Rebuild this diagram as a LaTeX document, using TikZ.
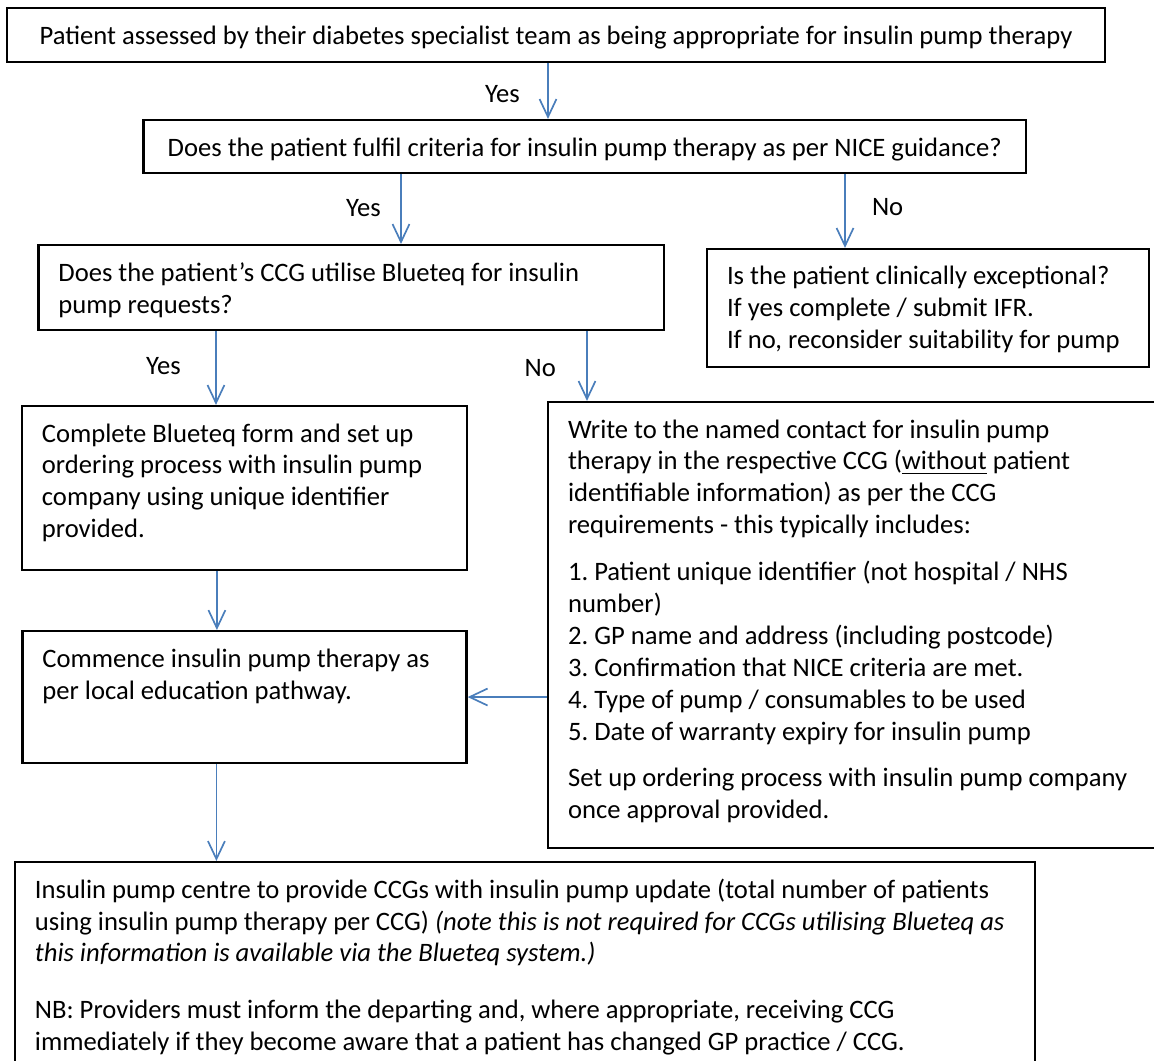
\documentclass[tikz,border=0pt]{standalone}
\usepackage{fontspec}
\setmainfont{Carlito}
\usetikzlibrary{arrows.meta}
\definecolor{flowblue}{RGB}{74,126,187}
\frenchspacing

\begin{document}
\begin{tikzpicture}[x=0.4132pt, y=-0.4132pt,
        font=\fontsize{11pt}{13.2pt}\selectfont,
        box/.style={draw, rectangle, line width=0.9pt, align=flush left, inner xsep=8.26pt, inner ysep=0pt, text height=14.88pt},
        flow/.style={draw=flowblue, line width=0.7pt, -{Straight Barb[length=7.4pt, width=7pt]}},
        answer/.style={inner sep=0pt}]
        \clip (0,0) rectangle (1154,1060);

        % Nodes
        \node (start) [box, align=flush center, text width=437.2pt, text depth=7.43pt] at (556,35) {Patient assessed by their diabetes specialist team as being appropriate for insulin pump therapy};
        \node (nice) [box, align=flush center, below of=start, node distance=46.07pt, xshift=11.88pt, text width=348.1pt, text depth=7.02pt] {Does the patient fulfil criteria for insulin pump therapy as per NICE guidance?};
        \node (blueteq) [box, below of=nice, node distance=58.26pt, xshift=-96.48pt, text width=242pt, text depth=20.2pt] {Does the patient’s CCG utilise Blueteq for insulin\\pump requests?};
        \node (except) [box, below of=nice, node distance=66.73pt, xshift=141.83pt, text width=166.1pt, text depth=33.9pt] {Is the patient clinically exceptional?\\If yes complete / submit IFR.\\If no, reconsider suitability for pump};
        \node (form) [box, below of=blueteq, node distance=82.85pt, xshift=-44.11pt, text width=167.4pt, text depth=52.9pt] {Complete Blueteq form and set up\\ordering process with insulin pump\\company using unique identifier\\provided.};
        \node (write) [box, below of=blueteq, node distance=139.45pt, xshift=208.77pt, text width=238.4pt, text depth=169.4pt] {Write to the named contact for insulin pump\\therapy in the respective CCG (\underline{without} patient\\identifiable information) as per the CCG\\requirements - this typically includes:\\[6pt]1. Patient unique identifier (not hospital / NHS\\number)\\2. GP name and address (including postcode)\\3. Confirmation that NICE criteria are met.\\4. Type of pump / consumables to be used\\5. Date of warranty expiry for insulin pump\\[6pt]Set up ordering process with insulin pump company\\once approval provided.};
        \node (commence) [box, below of=form, node distance=86.36pt, text width=167pt, text depth=39.6pt] {Commence insulin pump therapy as\\per local education pathway.};
        \node (update) [box, below of=commence, node distance=112.18pt, xshift=115.9pt, text width=405pt, text depth=73.1pt] {Insulin pump centre to provide CCGs with insulin pump update (total number of patients\\using insulin pump therapy per CCG) \textit{(note this is not required for CCGs utilising Blueteq as}\\\textit{this information is available via the Blueteq system.)}\\[10pt]NB: Providers must inform the departing and, where appropriate, receiving CCG\\immediately if they become aware that a patient has changed GP practice / CCG.};

        % Arrows
        \draw [flow] ([xshift=-3.31pt]start.south) -- ([xshift=-3.31pt]start.south |- nice.north) node (yes1) [answer, pos=0.55, left=11.3pt, text=black] {Yes};
        \draw [flow] ([xshift=-75.93pt]nice.south) -- ([xshift=-75.93pt]nice.south |- blueteq.north) node (yes2) [answer, pos=0.49, left=8pt, text=black] {Yes};
        \draw [flow] ([xshift=107.54pt]nice.south) -- ([xshift=107.54pt]nice.south |- except.north) node (no1) [answer, pos=0.45, right=10.8pt, text=black] {No};
        \draw [flow] ([xshift=-55.9pt]blueteq.south) -- ([xshift=-55.9pt]blueteq.south |- form.north) node (yes3) [answer, pos=0.48, left=14.2pt, text=black] {Yes};
        \draw [flow] ([xshift=97.4pt]blueteq.south) -- ([xshift=97.4pt]blueteq.south |- write.north) node (no2) [answer, pos=0.53, left=12.5pt, text=black] {No};
        \draw [flow] ([xshift=-11.4pt]form.south) -- ([xshift=-11.4pt]form.south |- commence.north);
        \draw [flow] (write.west |- commence.east) -- (commence.east);
        \draw [flow] ([xshift=-11.6pt]commence.south) -- ([xshift=-11.6pt]commence.south |- update.north);
    \end{tikzpicture}
\end{document}
